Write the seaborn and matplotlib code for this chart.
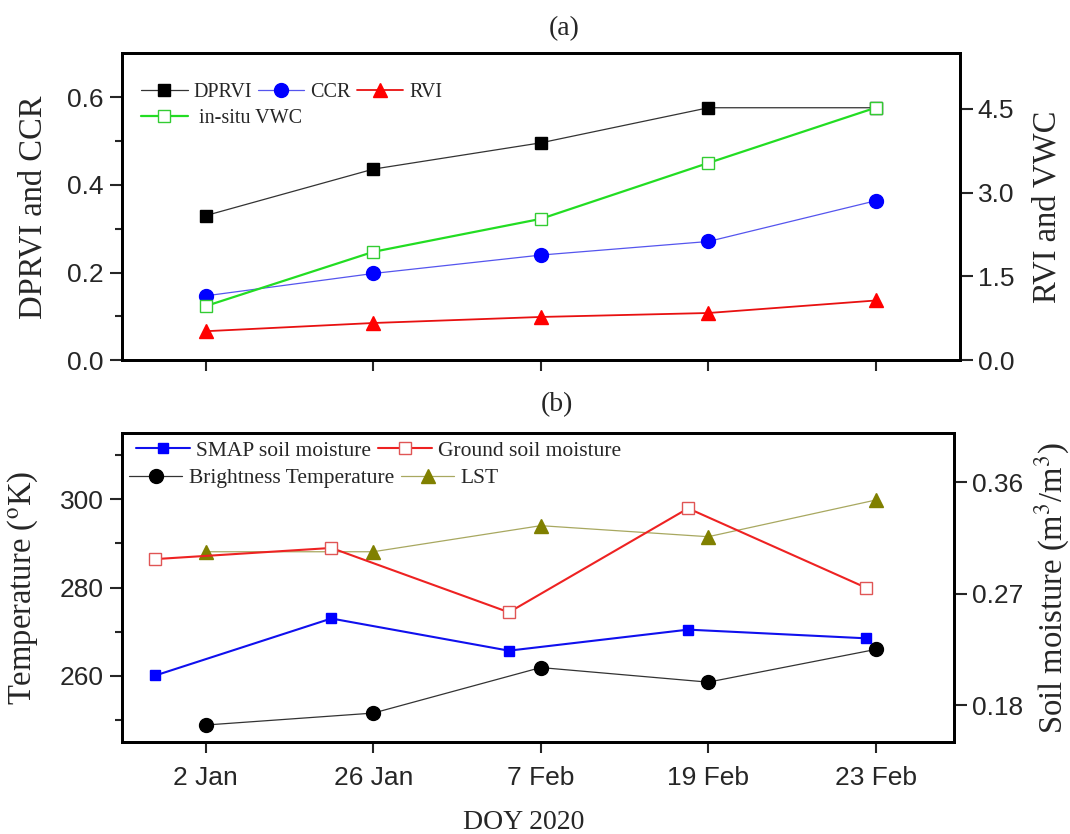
import numpy as np
import pandas as pd
import seaborn as sns
import matplotlib.pyplot as plt

# dates on the x axis (categorical positions)
dates = ["2 Jan", "26 Jan", "7 Feb", "19 Feb", "23 Feb"]
pos = [0, 1, 2, 3, 4]
sm_pos = [-0.30, 0.75, 1.81, 2.88, 3.94]  # soil moisture samples sit a bit left

# panel (a)
dprvi = [0.330, 0.436, 0.496, 0.576, 0.576]
ccr = [0.147, 0.198, 0.240, 0.271, 0.364]
rvi = [0.52, 0.667, 0.775, 0.846, 1.07]
vwc = [0.97, 1.94, 2.53, 3.53, 4.52]

# panel (b)
smap_sm = [0.204, 0.250, 0.224, 0.241, 0.234]
ground_sm = [0.298, 0.307, 0.255, 0.339, 0.275]
tb = [248.9, 251.6, 261.9, 258.6, 266.0]
lst = [288.1, 288.1, 294.0, 291.5, 299.8]

sns.set_style("ticks")
plt.rcParams['font.family'] = ['Liberation Sans', 'DejaVu Sans']
plt.rcParams['mathtext.fontset'] = 'stix'
serif = ['Liberation Serif', 'DejaVu Serif']

fig = plt.figure(figsize=(10.7, 8.34), dpi=100)
ax1 = fig.add_axes([0.114, 0.568, 0.783, 0.368])
ax3 = fig.add_axes([0.114, 0.110, 0.778, 0.371])
ax2 = ax1.twinx()
ax4 = ax3.twinx()


def line(ax, x, y, color, lcolor, marker, ms, lw, label, face=None):
    sns.lineplot(x=x, y=y, ax=ax, sort=False, estimator=None, color=lcolor,
                 lw=lw, marker=marker, markersize=ms,
                 markerfacecolor=face if face else color,
                 markeredgecolor=color, markeredgewidth=1.0, label=label,
                 legend=False)
    return ax.lines[-1]


h_dp = line(ax1, pos, dprvi, 'black', '#333333', 's', 9, 0.9, 'DPRVI')
h_cc = line(ax1, pos, ccr, '#0000ff', '#5555ee', 'o', 10, 0.9, 'CCR')
h_rv = line(ax2, pos, rvi, '#ff0000', '#e81010', '^', 10.5, 1.3, 'RVI')
h_vw = line(ax2, pos, vwc, '#33cc33', '#22dd22', 's', 9, 1.6, ' in-situ VWC', face='white')

h_sm = line(ax4, sm_pos, smap_sm, '#0000ff', '#1010ee', 's', 7.5, 1.5, 'SMAP soil moisture')
h_gs = line(ax4, sm_pos, ground_sm, '#e05555', '#ee2222', 's', 9, 1.5, 'Ground soil moisture', face='white')
h_tb = line(ax3, pos, tb, 'black', '#333333', 'o', 10, 0.9, 'Brightness Temperature')
h_ls = line(ax3, pos, lst, '#808000', '#a8a860', '^', 10, 0.9, 'LST')

# axes ranges and ticks
for ax in (ax1, ax2):
    ax.set_xlim(-0.5, 4.5)
for ax in (ax3, ax4):
    ax.set_xlim(-0.5, 4.47)
ax1.set_ylim(0, 0.70)
ax1.set_yticks([0.0, 0.2, 0.4, 0.6])
ax1.set_yticks([0.1, 0.3, 0.5], minor=True)
ax2.set_ylim(0, 5.49)
ax2.set_yticks([0.0, 1.5, 3.0, 4.5])
ax3.set_ylim(245, 315)
ax3.set_yticks([260, 280, 300])
ax3.set_yticks([250, 270, 290, 310], minor=True)
ax4.set_ylim(0.15, 0.40)
ax4.set_yticks([0.18, 0.27, 0.36])

ax1.set_xticks(pos)
ax1.set_xticklabels([])
ax3.set_xticks(pos)
ax3.set_xticklabels(dates)

for ax in (ax1, ax2, ax3, ax4):
    for s in ax.spines.values():
        s.set_visible(True)
        s.set_linewidth(2.0)
        s.set_color('black')
    ax.tick_params(which='major', length=9, width=1.5, labelsize=19, direction='out', pad=4)
    ax.tick_params(which='minor', length=5, width=1.5, direction='out')
    ax.tick_params(axis='x', length=8, pad=9)
    ax.set_xlabel('')
    ax.set_ylabel('')

ax1.yaxis.set_major_formatter(plt.FormatStrFormatter('%.1f'))
ax2.yaxis.set_major_formatter(plt.FormatStrFormatter('%.1f'))
ax4.yaxis.set_major_formatter(plt.FormatStrFormatter('%.2f'))

# axis labels
ax1.set_ylabel('DPRVI and CCR', fontsize=23.5, family=serif)
ax1.yaxis.set_label_coords(-0.088, 0.5)
ax2.set_ylabel('RVI and VWC', fontsize=23.5, family=serif)
ax2.yaxis.set_label_coords(1.086, 0.5)
ax3.set_ylabel('Temperature ($^{\\mathrm{o}}$K)', fontsize=23.5, family=serif)
ax3.yaxis.set_label_coords(-0.099, 0.5)
ax4.set_ylabel('Soil moisture (m$^3$/m$^3$)', fontsize=23.5, family=serif)
ax4.yaxis.set_label_coords(1.094, 0.5)
ax3.set_xlabel('DOY 2020', fontsize=20, family=serif)
ax3.xaxis.set_label_coords(0.483, -0.218)

fig.text(564 / 1070, 1 - 29 / 834, '(a)', fontsize=20, family=serif, ha='center', va='center')
fig.text(557 / 1070, 1 - 405 / 834, '(b)', fontsize=20, family=serif, ha='center', va='center')

# legends
leg_kw = dict(frameon=False, borderaxespad=0, borderpad=0, handletextpad=0.3,
              columnspacing=0.3, prop={'family': serif, 'size': 14.5}, handlelength=2.3)
la = ax2.legend([h_dp, h_cc, h_rv], ['DPRVI', 'CCR', 'RVI'], ncol=3, loc='upper left',
                bbox_to_anchor=(0.023, 0.905), **leg_kw)
ax2.add_artist(la)
ax2.legend([h_vw], [' in-situ VWC'], loc='upper left', bbox_to_anchor=(0.023, 0.82), **leg_kw)

leg_kw['prop'] = {'family': serif, 'size': 15.5}
leg_kw['handlelength'] = 2.5
lb = ax4.legend([h_sm, h_gs], ['SMAP soil moisture', 'Ground soil moisture'], ncol=2,
                loc='upper left', bbox_to_anchor=(0.017, 0.975), **leg_kw)
ax4.add_artist(lb)
ax4.legend([h_tb, h_ls], ['Brightness Temperature', 'LST'], ncol=2,
           loc='upper left', bbox_to_anchor=(0.008, 0.885), **leg_kw)

fig.savefig('out.png', dpi=100)
